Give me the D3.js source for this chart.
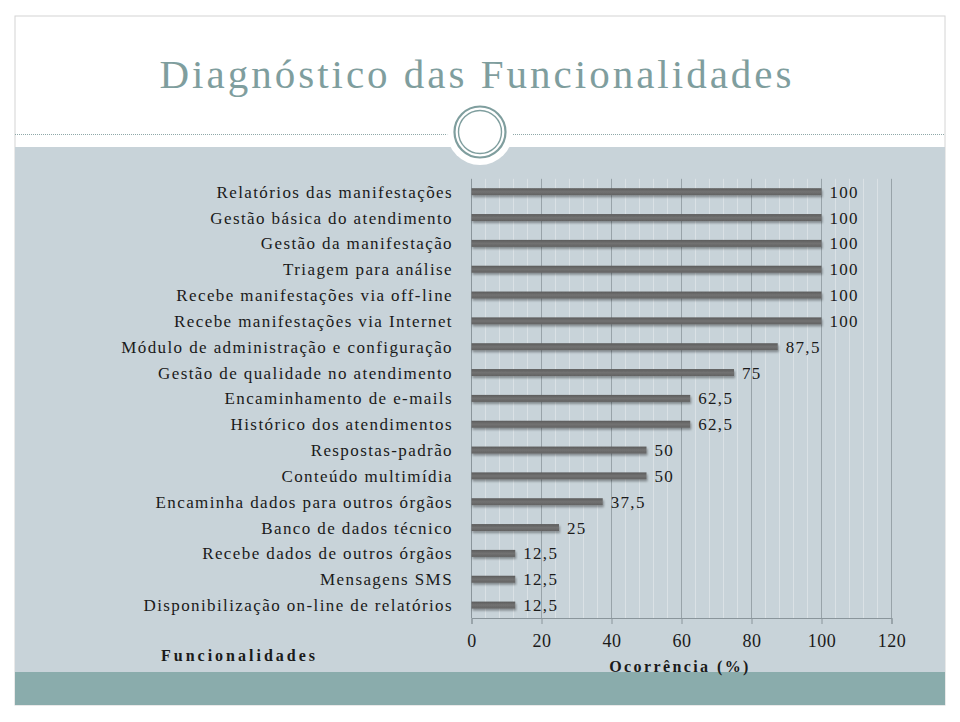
<!DOCTYPE html>
<html><head><meta charset="utf-8">
<script src="https://cdn.jsdelivr.net/npm/d3@7"></script>
<style>html,body{margin:0;padding:0;background:#fff;}svg{display:block;}</style>
</head><body>
<script>
const titleText = "Diagnóstico das Funcionalidades";
const categories = [
  "Relatórios das manifestações",
  "Gestão básica do atendimento",
  "Gestão da manifestação",
  "Triagem para análise",
  "Recebe manifestações via off-line",
  "Recebe manifestações via Internet",
  "Módulo de administração e configuração",
  "Gestão de qualidade no atendimento",
  "Encaminhamento de e-mails",
  "Histórico dos atendimentos",
  "Respostas-padrão",
  "Conteúdo multimídia",
  "Encaminha dados para outros órgãos",
  "Banco de dados técnico",
  "Recebe dados de outros órgãos",
  "Mensagens SMS",
  "Disponibilização on-line de relatórios"
];
const values = [100,100,100,100,100,100,87.5,75,62.5,62.5,50,50,37.5,25,12.5,12.5,12.5];
const xTicks = [0,20,40,60,80,100,120];
const yAxisTitle = "Funcionalidades";
const xAxisTitle = "Ocorrência (%)";

const W = 960, H = 722;
const svg = d3.select("body").append("svg").attr("width", W).attr("height", H);
const defs = svg.append("defs");
const f = defs.append("filter").attr("id","sh").attr("x","-5%").attr("y","-100%").attr("width","110%").attr("height","300%");
f.append("feDropShadow").attr("dx",1).attr("dy",2).attr("stdDeviation",1.3).attr("flood-color","#000").attr("flood-opacity",0.35);
const g = defs.append("linearGradient").attr("id","barg").attr("x1",0).attr("x2",0).attr("y1",0).attr("y2",1);
g.append("stop").attr("offset","0%").attr("stop-color","#5c5c5c");
g.append("stop").attr("offset","50%").attr("stop-color","#727272");
g.append("stop").attr("offset","100%").attr("stop-color","#626262");

const serif = "'Liberation Serif','Times New Roman',serif";

// slide frame
svg.append("rect").attr("x",15).attr("y",16).attr("width",930).attr("height",689)
  .attr("fill","#fff").attr("stroke","#d4d4d4").attr("stroke-width",1);
// gray panel
svg.append("rect").attr("x",15).attr("y",147).attr("width",930).attr("height",525).attr("fill","#c8d3d9");
// teal band
svg.append("rect").attr("x",15).attr("y",672).attr("width",930).attr("height",33).attr("fill","#8aacac");
// dotted line
svg.append("line").attr("x1",15).attr("x2",945).attr("y1",134.5).attr("y2",134.5)
  .attr("stroke","#8fa8a8").attr("stroke-width",1).attr("stroke-dasharray","1,1");
// circle ornament
svg.append("circle").attr("cx",480).attr("cy",132).attr("r",33).attr("fill","#fff");
svg.append("circle").attr("cx",480).attr("cy",132).attr("r",25.5).attr("fill","none").attr("stroke","#7f9e9e").attr("stroke-width",2.2);
svg.append("circle").attr("cx",480).attr("cy",132).attr("r",21.5).attr("fill","none").attr("stroke","#7f9e9e").attr("stroke-width",1.4);

// title
svg.append("text").attr("x",477).attr("y",88).attr("text-anchor","middle")
  .attr("font-family",serif).attr("font-size",41).attr("letter-spacing",3)
  .attr("fill","#7f9e9e").text(titleText);

// scales
const x = d3.scaleLinear().domain([0,120]).range([471.5,891.5]);
const y = d3.scaleBand().domain(categories).range([178.8,618]);
const plotTop = 178.8, plotBottom = 618;

// minor grid
const minor = d3.range(0,121,4).filter(v => v % 20 !== 0);
svg.append("g").selectAll("line").data(minor).join("line")
  .attr("x1",d=>x(d)).attr("x2",d=>x(d)).attr("y1",plotTop).attr("y2",plotBottom)
  .attr("stroke","#dae1e5").attr("stroke-width",1);
// major grid
svg.append("g").selectAll("line").data(xTicks.slice(1)).join("line")
  .attr("x1",d=>x(d)).attr("x2",d=>x(d)).attr("y1",plotTop).attr("y2",plotBottom)
  .attr("stroke","#98a3a9").attr("stroke-width",1);

// bottom axis
const xAxis = d3.axisBottom(x).tickValues(xTicks).tickSize(6).tickPadding(10).tickFormat(d3.format("d"));
const gx = svg.append("g").attr("transform",`translate(0,${plotBottom})`).call(xAxis);
gx.select(".domain").attr("stroke","#8a959b");
gx.selectAll(".tick line").attr("stroke","#8a959b");
gx.selectAll(".tick text").attr("font-family",serif).attr("font-size",18).attr("fill","#1a1a1a").attr("letter-spacing",0.5);
// left axis line
svg.append("line").attr("x1",x(0)).attr("x2",x(0)).attr("y1",plotTop).attr("y2",plotBottom).attr("stroke","#8a959b");

// bars
const bh = 7;
svg.append("g").selectAll("rect").data(values).join("rect")
  .attr("x",x(0)).attr("y",(d,i)=>y(categories[i])+y.bandwidth()/2-bh/2)
  .attr("width",d=>x(d)-x(0)).attr("height",bh)
  .attr("fill","url(#barg)").attr("filter","url(#sh)");

// category labels
svg.append("g").selectAll("text").data(categories).join("text")
  .attr("x",453).attr("y",d=>y(d)+y.bandwidth()/2+6)
  .attr("text-anchor","end").attr("font-family",serif).attr("font-size",17)
  .attr("letter-spacing",1.4).attr("fill","#1a1a1a").text(d=>d);

// value labels
const fmt = v => String(v).replace(".",",");
svg.append("g").selectAll("text").data(values).join("text")
  .attr("x",d=>x(d)+8).attr("y",(d,i)=>y(categories[i])+y.bandwidth()/2+6)
  .attr("font-family",serif).attr("font-size",17).attr("letter-spacing",1.3)
  .attr("fill","#1a1a1a").text(d=>fmt(d));

// axis titles
svg.append("text").attr("x",161).attr("y",661).attr("font-family",serif).attr("font-weight","bold")
  .attr("font-size",16).attr("letter-spacing",3).attr("fill","#1a1a1a").text(yAxisTitle);
svg.append("text").attr("x",680).attr("y",672).attr("text-anchor","middle").attr("font-family",serif).attr("font-weight","bold")
  .attr("font-size",16).attr("letter-spacing",2.4).attr("fill","#1a1a1a").text(xAxisTitle);
</script>
</body></html>
